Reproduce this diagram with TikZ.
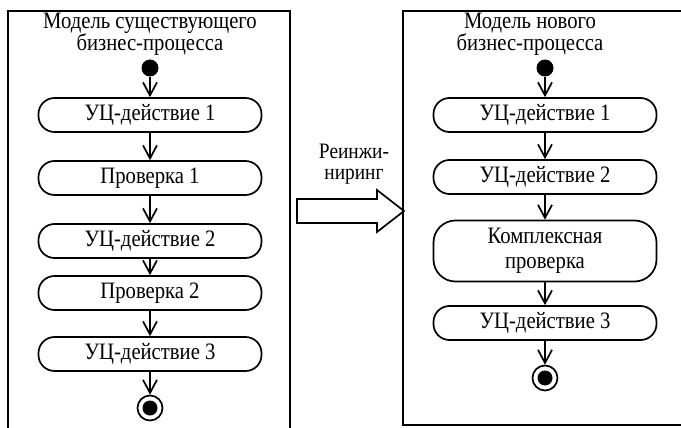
\documentclass[tikz,border=0pt]{standalone}
\usepackage{fontspec}
\setmainfont[FakeStretch=0.88]{Liberation Serif}
\usetikzlibrary{arrows.meta}
\begin{document}
\begin{tikzpicture}[x=1pt,y=-1pt,
  lw/.style={line width=1.7pt},
  act/.style={draw, lw, rounded corners=16pt, minimum width=223pt, minimum height=34pt,
    font=\fontsize{23.5}{25}\selectfont, align=center, inner sep=0pt},
  flow/.style={lw, -{Straight Barb[length=13pt,width=14pt]}},
  txt/.style={font=\fontsize{23.5}{22}\selectfont, align=center, inner sep=0pt},
  startdot/.style={circle, fill, minimum size=17pt, inner sep=0pt},
  endring/.style={circle, draw, lw, minimum size=25pt, inner sep=0pt},
  enddot/.style={circle, fill, minimum size=15pt, inner sep=0pt},
  frame/.style={draw, lw}
]
\useasboundingbox (0,0) rectangle (681,428);
\clip (0,0) rectangle (681,428);
% frames
\draw[frame] (8,11) rectangle (290,445);
\draw[frame] (403,11) rectangle (700,425);
% titles
\node[txt] (t1) at (150,34) {Модель существующего\\бизнес-процесса};
\node[txt] (t2) at (530,34) {Модель нового\\бизнес-процесса};
% left column
\node[startdot] (s1) at (150,68) {};
\node[act] (a1) at (150,115) {УЦ-действие 1};
\node[act] (a2) at (150,178) {Проверка 1};
\node[act] (a3) at (150,241) {УЦ-действие 2};
\node[act] (a4) at (150,293) {Проверка 2};
\node[act] (a5) at (150,354) {УЦ-действие 3};
\node[endring] (e1) at (150,408) {};
\node[enddot] (e1i) at (e1) {};
\draw[flow] (s1) -- (a1);
\draw[flow] (a1) -- (a2);
\draw[flow] (a2) -- (a3);
\draw[flow] (a3) -- (a4);
\draw[flow] (a4) -- (a5);
\draw[flow] (a5) -- (e1);
% right column
\node[startdot] (s2) at (545,68) {};
\node[act] (b1) at (545,115) {УЦ-действие 1};
\node[act] (b2) at (545,177) {УЦ-действие 2};
\node[act, minimum height=61pt, rounded corners=22pt, font=\fontsize{23.5}{25}\selectfont] (b3) at (545,251) {Комплексная\\проверка};
\node[act] (b4) at (545,323) {УЦ-действие 3};
\node[endring] (e2) at (545,378) {};
\node[enddot] (e2i) at (e2) {};
\draw[flow] (s2) -- (b1);
\draw[flow] (b1) -- (b2);
\draw[flow] (b2) -- (b3);
\draw[flow] (b3) -- (b4);
\draw[flow] (b4) -- (e2);
% reengineering arrow
\node[txt, font=\fontsize{22}{21}\selectfont] (re) at (354,164) {Реинжи-\\ниринг};
\draw[lw, line join=miter] (297,199) -- (377,199) -- (377,190) -- (404,211) -- (377,232) -- (377,223) -- (297,223) -- cycle;
\end{tikzpicture}
\end{document}
